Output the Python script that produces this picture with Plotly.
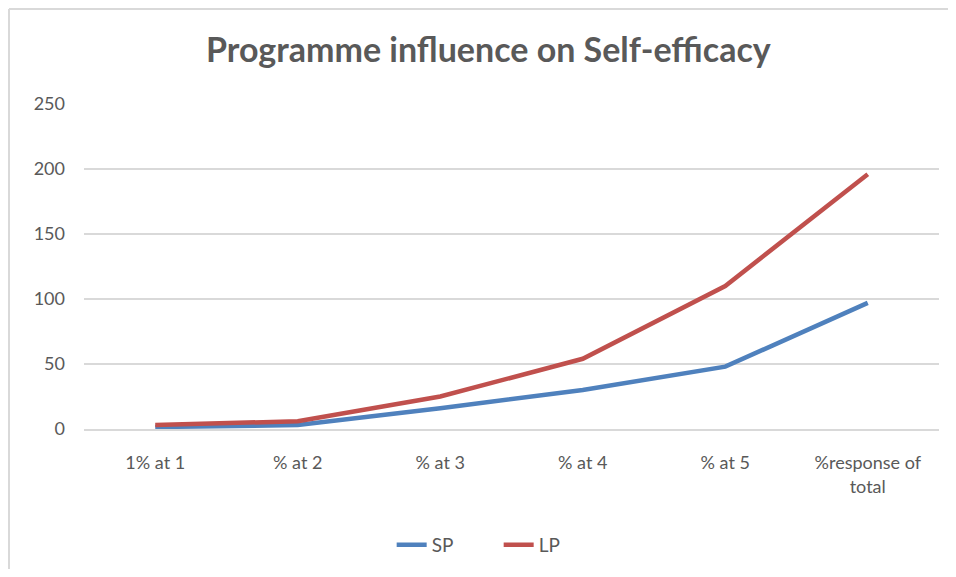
import plotly.graph_objects as go

categories = ["1% at 1", "% at 2", "% at 3", "% at 4", "% at 5", "%response of<br>total"]
sp_values = [1.5, 3, 16, 30, 48, 97]
lp_values = [3, 6, 25, 54, 110, 196]

grey = "#595959"
font_name = "Lato, Carlito, Calibri, sans-serif"

fig = go.Figure()
fig.add_trace(go.Scatter(x=categories, y=sp_values, name="SP", mode="lines",
                         line=dict(color="#4F81BD", width=4.5)))
fig.add_trace(go.Scatter(x=categories, y=lp_values, name="LP", mode="lines",
                         line=dict(color="#C0504D", width=4.5)))

# page body has an 8px margin, so the figure is a little smaller than the window
fig.update_layout(
    width=940, height=561,
    margin=dict(l=76, r=9, t=96, b=140),
    paper_bgcolor="white", plot_bgcolor="white",
    font=dict(family=font_name, color=grey, size=18),
    title=dict(text="<b>Programme influence on Self-efficacy</b>",
               x=0.511, xanchor="center", y=0.925, yanchor="middle",
               font=dict(size=34, color=grey, family=font_name)),
    legend=dict(orientation="h", x=0.485, xanchor="center",
                yref="container", y=0.043, yanchor="middle",
                font=dict(size=19, color=grey), entrywidth=62),
    showlegend=True,
)
fig.update_xaxes(showgrid=False, showline=True, linecolor="#d9d9d9", linewidth=1.5,
                 ticks="", tickfont=dict(size=18, color=grey), ticklabelstandoff=17,
                 zeroline=False, range=[-0.5, 5.5], automargin=False)
fig.update_yaxes(range=[0, 250], dtick=50, showgrid=True, gridcolor="#d9d9d9", gridwidth=1.5,
                 zeroline=False, showline=False, ticks="", automargin=False,
                 tickfont=dict(size=18, color=grey), ticklabelstandoff=18)

# chart area border (top and left edges)
fig.add_shape(type="line", xref="paper", yref="paper", x0=-0.0877, x1=2, y0=1.292, y1=1.292,
              line=dict(color="#d9d9d9", width=2))
fig.add_shape(type="line", xref="paper", yref="paper", x0=-0.0877, x1=-0.0877, y0=-2, y1=1.292,
              line=dict(color="#d9d9d9", width=2))

fig.write_html("out.html")
